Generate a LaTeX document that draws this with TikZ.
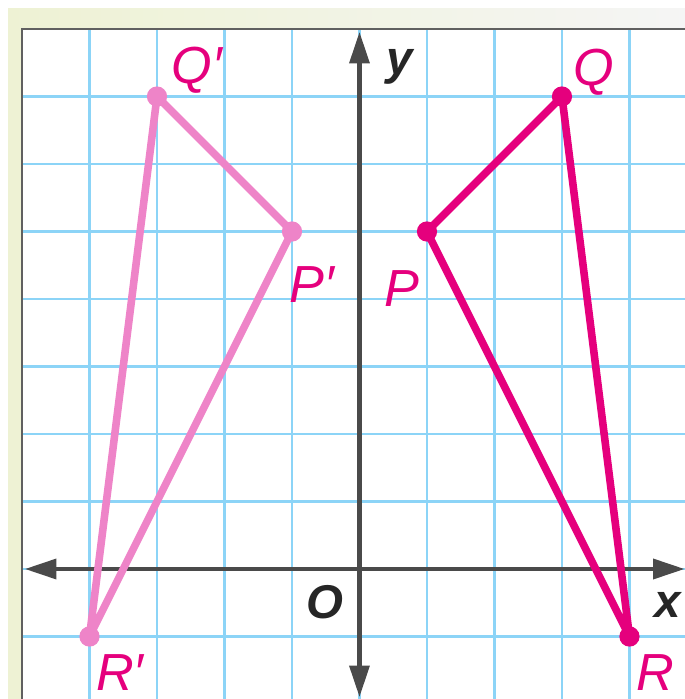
\documentclass[tikz,border=0pt]{standalone}
\usepackage{fontspec}
\setmainfont{Liberation Sans}
\usetikzlibrary{arrows.meta,positioning}
\definecolor{gridblue}{RGB}{140,212,247}
\definecolor{axisgray}{RGB}{74,74,74}
\definecolor{imgcol}{RGB}{229,0,125}
\definecolor{precol}{RGB}{238,132,200}
\definecolor{stripcol}{RGB}{238,242,212}
\tikzset{
  axis/.style={draw=axisgray,line width=2pt,<->,>={Triangle[length=4.7mm,width=2.9mm]}},
  gridln/.style={draw=gridblue,line width=1.2pt},
  tri/.style={line width=3.2pt,line join=round},
  vlab/.style={font=\fontsize{22}{24}\selectfont\itshape,text=imgcol,inner sep=1pt},
  alab/.style={font=\fontsize{20}{24}\selectfont\bfseries\itshape,text=black!85,inner sep=1pt},
}

\begin{document}
\begin{tikzpicture}
\useasboundingbox (-5.326,-1.926) rectangle (4.822,8.430);
% paper edge
\fill[stripcol] (-5.207,-1.926) rectangle (-5,8.311);
\shade[left color=stripcol,right color=gray!8] (-5.207,8) rectangle (4.822,8.311);
% grid
\begin{scope}
\clip (-5,-1.926) rectangle (4.822,8);
\foreach \i in {-4,...,4} \draw[gridln] (\i,-2) -- (\i,8);
\foreach \j in {-1,...,7} \draw[gridln] (-5,\j) -- (5,\j);
\end{scope}
\draw[gray!75!black,line width=1.2pt] (-5,-1.926) -- (-5,8) -- (4.822,8);
% axes
\coordinate (xl) at (-4.96,0);
\coordinate (xr) at (4.82,0);
\coordinate (yb) at (0,-1.9);
\coordinate (yt) at (0,7.96);
\draw[axis] (xl) -- (xr);
\draw[axis] (yb) -- (yt);
\node[alab] (xlab) at (4.57,-0.53) {x};
\node[alab,fill=white] (ylab) at (0.6,7.44) {y};
\node[alab] (olab) at (-0.51,-0.49) {O};
% triangles
\coordinate (P) at (1,5);
\coordinate (Q) at (3,7);
\coordinate (R) at (4,-1);
\coordinate (Pp) at (-1,5);
\coordinate (Qp) at (-3,7);
\coordinate (Rp) at (-4,-1);
\draw[tri,precol] (Pp) -- (Qp) -- (Rp) -- cycle;
\draw[tri,imgcol] (P) -- (Q) -- (R) -- cycle;
\foreach \p in {Pp,Qp,Rp} \fill[precol] (\p) circle (0.15);
\foreach \p in {P,Q,R} \fill[imgcol] (\p) circle (0.15);
\node[vlab] (lQp) at (-2.41,7.39) {Q′};
\node[vlab] (lPp) at (-0.70,4.21) {P′};
\node[vlab] (lRp) at (-3.55,-1.53) {R′};
\node[vlab] (lQ) at (3.47,7.36) {Q};
\node[vlab] (lP) at (0.63,4.16) {P};
\node[vlab] (lR) at (4.38,-1.53) {R};
\end{tikzpicture}
\end{document}
